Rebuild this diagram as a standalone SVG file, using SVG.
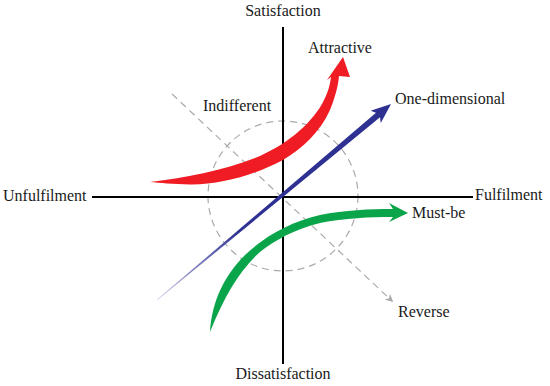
<svg xmlns="http://www.w3.org/2000/svg" width="550" height="386" viewBox="0 0 550 386">
<style>
.lbl{font-family:"Liberation Serif","Times New Roman",serif;font-size:16px;fill:#1a1a1a}
.dash{fill:none;stroke:#aaaaaa;stroke-width:1.2;stroke-dasharray:7 5}
.axis{stroke:#000;stroke-width:2;fill:none}
</style>
<defs>
<marker id="grayhead" viewBox="0 0 10 10" refX="8" refY="5" markerWidth="8" markerHeight="8" markerUnits="userSpaceOnUse" orient="auto">
<path d="M0,0 L10,5 L0,10 L3,5 Z" fill="#aaaaaa"/>
</marker>
<linearGradient id="blueg" gradientUnits="userSpaceOnUse" x1="157" y1="300" x2="240" y2="231">
<stop offset="0" stop-color="#c8c8e6"/>
<stop offset="1" stop-color="#2e3192"/>
</linearGradient>
</defs>
<rect width="550" height="386" fill="#fff"/>
<g id="reference-circle">
<circle class="dash" cx="283" cy="196" r="75"/>
</g>
<g id="axes">
<line class="axis" x1="283" y1="27" x2="283" y2="364"/>
<line class="axis" x1="92" y1="197" x2="473" y2="197"/>
</g>
<g id="connectors">
<g id="reverse-line">
<line class="dash" x1="172" y1="94" x2="392" y2="301" marker-end="url(#grayhead)"/>
</g>
<g id="attractive-curve">
<path fill="#f01c24" d="M150,182 C185,178 225,170 255,158 C285,146 310,125 322,104 C328,93 330,85 331,77 L327,80 L343,57 L350,77 L339,76 C338,88 334,100 330,110 C320,132 303,148 283,160 C255,175 220,185 190,184.5 C172,184 160,183 150,182 Z"/>
</g>
<g id="one-dimensional-line">
<path fill="url(#blueg)" d="M156.8,299.7 L376,112.7 L370.6,110.8 L391,104 L380.8,123 L380,117.3 L157.2,300.3 Z"/>
</g>
<g id="must-be-curve">
<path fill="#0aa54a" d="M210,332 C212,300 225,275 245,255 C265,236 290,222 320,215 C345,210 370,209 393,209 L389,203 L408,213 L389,222 L393,217 C370,217 345,218 320,223 C295,229 275,240 260,252 C240,270 225,295 210,332 Z"/>
</g>
</g>
<g id="labels">
<text class="lbl" x="283" y="16" text-anchor="middle">Satisfaction</text>
<text class="lbl" x="283" y="379" text-anchor="middle">Dissatisfaction</text>
<text class="lbl" x="3" y="201">Unfulfilment</text>
<text class="lbl" x="475" y="200">Fulfilment</text>
<text class="lbl" x="308" y="53">Attractive</text>
<text class="lbl" x="395" y="104">One-dimensional</text>
<text class="lbl" x="203" y="111">Indifferent</text>
<text class="lbl" x="412" y="218">Must-be</text>
<text class="lbl" x="398" y="317">Reverse</text>
</g>
</svg>
